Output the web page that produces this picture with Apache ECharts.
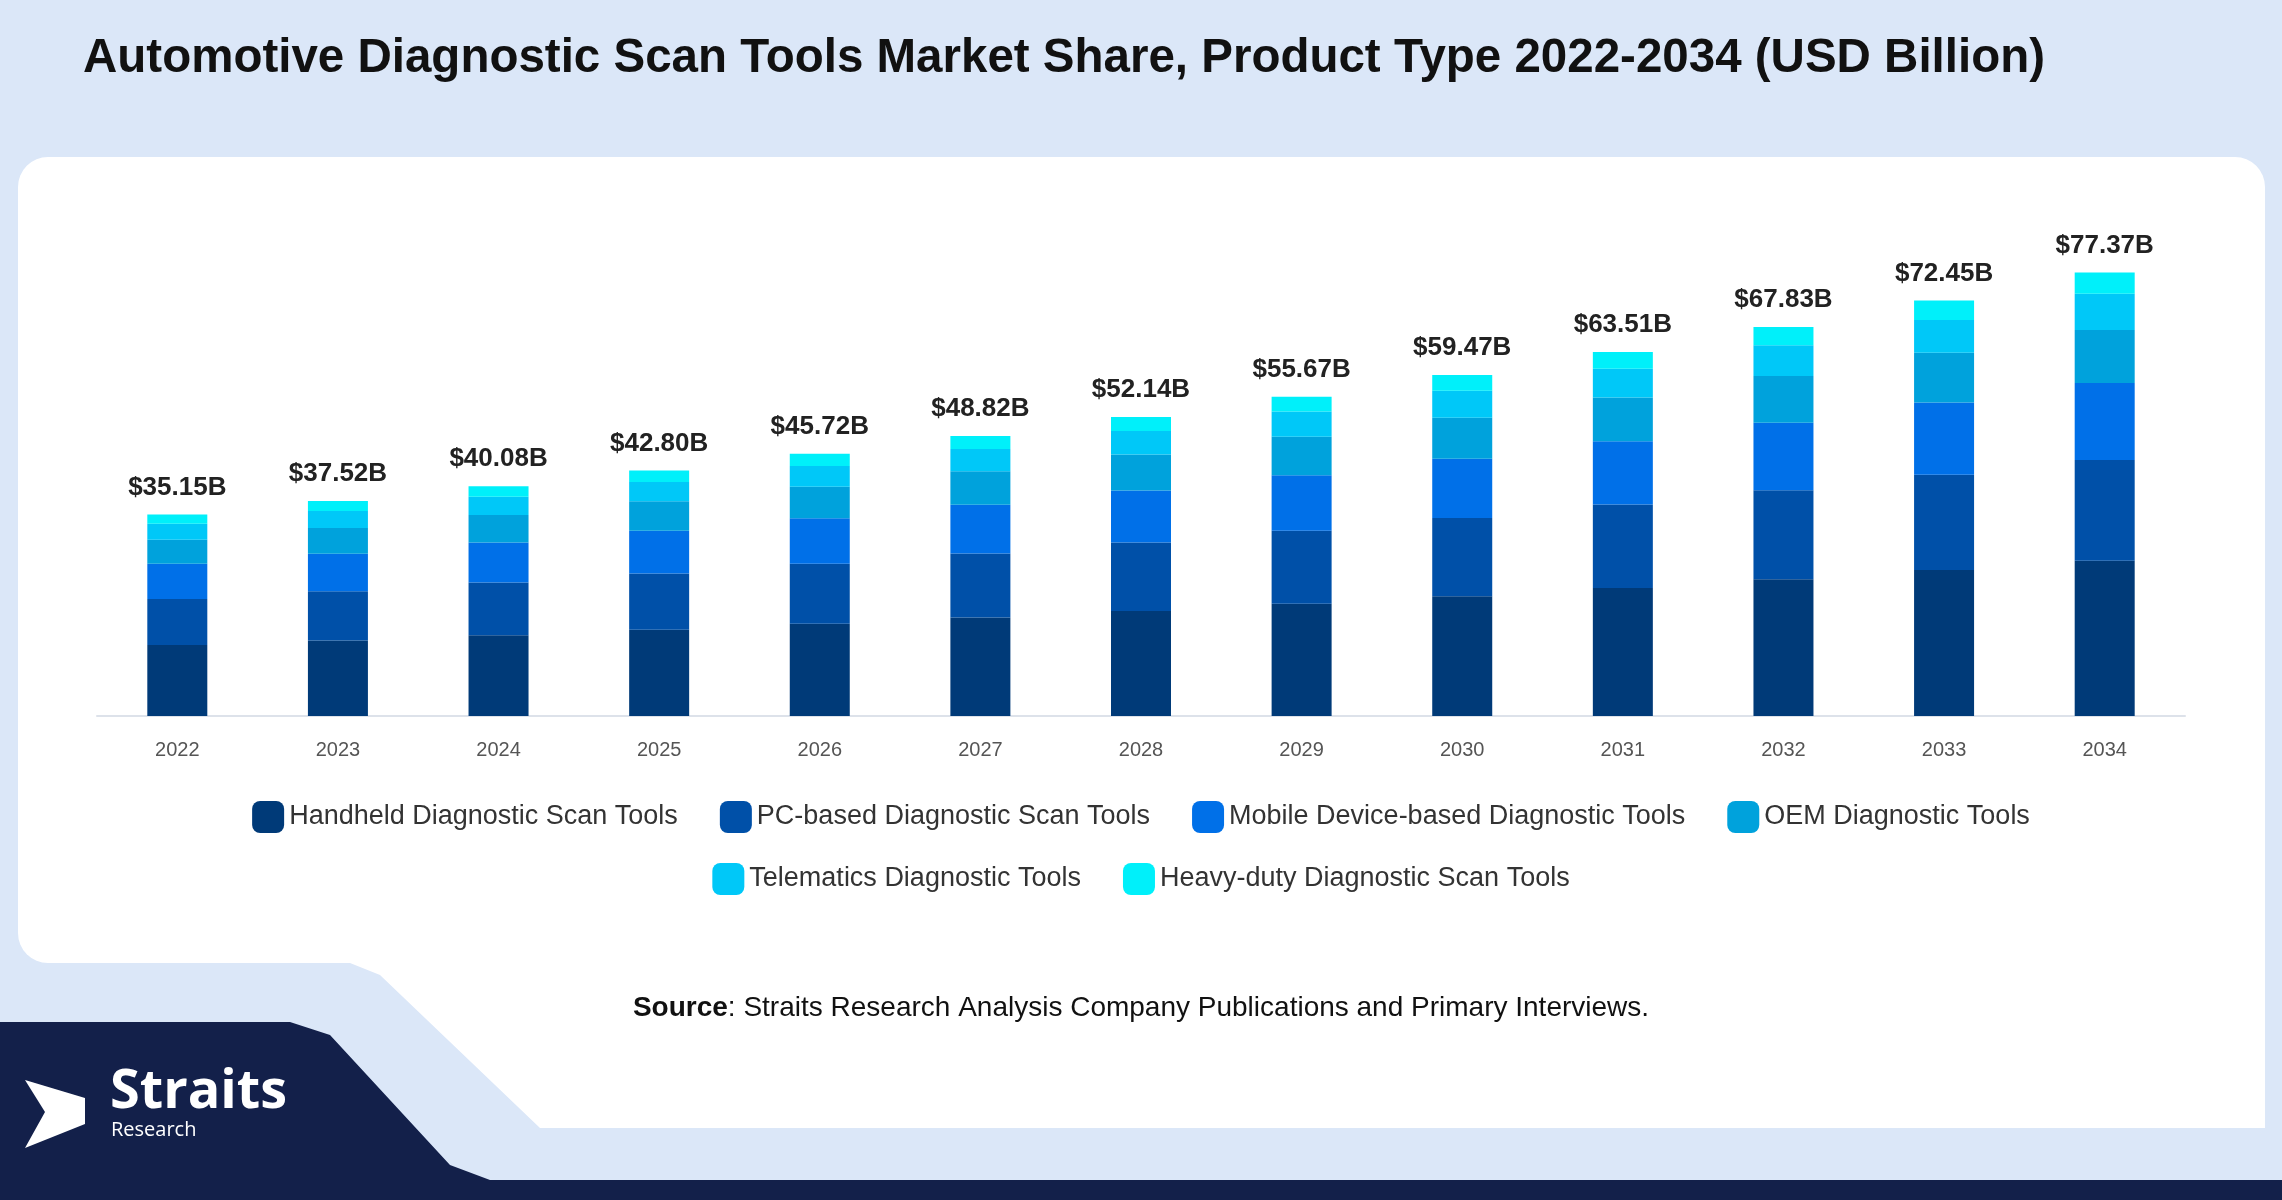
<!DOCTYPE html>
<html><head><meta charset="utf-8">
<script src="https://cdn.jsdelivr.net/npm/echarts@6/dist/echarts.min.js"></script>
<style>html,body{margin:0;padding:0;background:#dbe7f8}#c{width:2282px;height:1200px}</style>
</head><body><div id="c"></div>
<script>
const years=['2022','2023','2024','2025','2026','2027','2028','2029','2030','2031','2032','2033','2034'];
const totals=[35.15,37.52,40.08,42.80,45.72,48.82,52.14,55.67,59.47,63.51,67.83,72.45,77.37];
const handheld=[12.37,13.19,14.09,15.05,16.07,17.16,18.33,19.57,20.90,22.33,23.84,25.47,27.08];
const pcBased=[8.05,8.59,9.18,9.80,10.47,11.18,11.94,12.75,13.62,14.54,15.53,16.59,17.55];
const mobile=[6.12,6.53,6.97,7.45,7.96,8.49,9.07,9.69,10.35,11.05,11.80,12.61,13.44];
const oem=[4.22,4.50,4.81,5.14,5.49,5.86,6.26,6.68,7.14,7.62,8.14,8.69,9.27];
const telematics=[2.78,2.96,3.17,3.38,3.61,3.86,4.12,4.40,4.70,5.02,5.36,5.72,6.29];
const heavy=[1.61,1.75,1.86,1.98,2.12,2.27,2.42,2.58,2.76,2.95,3.16,3.37,3.74];
const names=['Handheld Diagnostic Scan Tools','PC-based Diagnostic Scan Tools','Mobile Device-based Diagnostic Tools','OEM Diagnostic Tools','Telematics Diagnostic Tools','Heavy-duty Diagnostic Scan Tools'];
const colors=['#003a78','#0050a8','#0070e8','#00a2dc','#00c8f8','#00f0fa'];
const data=[handheld,pcBased,mobile,oem,telematics,heavy];
const ch=echarts.init(document.getElementById('c'));
const series=data.map((d,i)=>({name:names[i],type:'bar',stack:'t',data:d,barWidth:60,
 itemStyle:{color:colors[i]},
 label:i===5?{show:true,position:'top',distance:14,formatter:p=>'$'+totals[p.dataIndex].toFixed(2)+'B',
   fontSize:26,fontWeight:'bold',color:'#222',fontFamily:'Liberation Sans'}:{show:false}}));
const legStyle={fontSize:27,color:'#333',fontFamily:'Liberation Sans'};
ch.setOption({
 animation:false,
 title:{text:'Automotive Diagnostic Scan Tools Market Share, Product Type 2022-2034 (USD Billion)',left:78,top:30,
  textStyle:{fontSize:47.5,fontWeight:'bold',color:'#111',fontFamily:'Liberation Sans'}},
 graphic:[
  {type:'polygon',z:-10,shape:{points:[[60,900],[2265,900],[2265,1128],[540,1128],[380,975],[350,963],[60,963]]},style:{fill:'#fff'}},
  {type:'rect',z:-9,shape:{x:18,y:157,width:2247,height:806,r:30},style:{fill:'#fff'}},
  {type:'polygon',z:-8,shape:{points:[[0,1022],[290,1022],[330,1035],[450,1165],[490,1180],[2282,1180],[2282,1200],[0,1200]]},style:{fill:'#13204a'}},
  {type:'polygon',z:-7,shape:{points:[[25,1080],[85,1098],[85,1124],[25,1148],[45,1112]]},style:{fill:'#fff'}},
  {type:'text',left:110,top:1066,style:{text:'Straits',fill:'#fff',font:'bold 54px "Open Sans"'}},
  {type:'text',left:111,top:1120,style:{text:'Research',fill:'#fff',font:'20px "Open Sans"'}},
  {type:'text',left:'center',top:994,style:{rich:{b:{fontWeight:'bold',fontSize:28,fontFamily:'Liberation Sans',fill:'#111'},n:{fontSize:28,fontFamily:'Liberation Sans',fill:'#111'}},text:'{b|Source}{n|: Straits Research Analysis Company Publications and Primary Interviews.}'}}
 ],
 legend:[
  {data:names.slice(0,4),top:796,left:'center',itemWidth:32,itemHeight:32,itemGap:42,icon:'roundRect',textStyle:legStyle},
  {data:names.slice(4),top:858,left:'center',itemWidth:32,itemHeight:32,itemGap:42,icon:'roundRect',textStyle:legStyle}
 ],
 grid:{left:97,right:97,top:200,bottom:484},
 xAxis:{type:'category',data:years,axisTick:{show:false},axisLine:{lineStyle:{color:'#dde2ea',width:2}},
  axisLabel:{fontSize:20,color:'#555',margin:24,fontFamily:'Liberation Sans'}},
 yAxis:{type:'value',min:0,max:90,show:false,splitLine:{show:false}},
 series
});
</script></body></html>
